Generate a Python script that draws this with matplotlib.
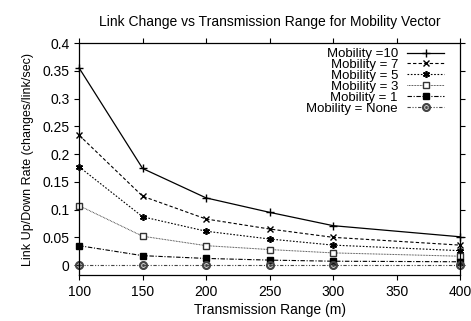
import matplotlib
matplotlib.use("Agg")
import matplotlib.pyplot as plt

plt.rcParams['font.family'] = ['Liberation Sans', 'DejaVu Sans']

ranges = [100, 150, 200, 250, 300, 400]
labels = ["Mobility =10", "Mobility = 7", "Mobility = 5", "Mobility = 3", "Mobility = 1", "Mobility = None"]
mob10 = [0.355, 0.174, 0.121, 0.095, 0.071, 0.051]
mob7 = [0.234, 0.124, 0.083, 0.065, 0.050, 0.036]
mob5 = [0.177, 0.087, 0.061, 0.047, 0.036, 0.026]
mob3 = [0.107, 0.052, 0.035, 0.028, 0.022, 0.016]
mob1 = [0.035, 0.017, 0.012, 0.009, 0.007, 0.006]
mobnone = [0.0, 0.0, 0.0, 0.0, 0.0, 0.0]

series = [mob10, mob7, mob5, mob3, mob1, mobnone]
styles = [
    dict(ls='-', marker='+', ms=5.5, mew=1.0, color='black', lw=0.9),
    dict(ls=(0, (3, 2)), marker='x', ms=4, mew=1.0, color='black', lw=0.8),
    dict(ls=(0, (1.5, 1.5)), marker=(6, 2, 0), ms=5, mew=1.2, color='black', lw=0.8),
    dict(ls=(0, (0.8, 0.8)), marker='s', ms=4.2, mfc='white', mew=1.0, color='#333333', lw=0.7),
    dict(ls=(0, (4, 1.5, 1, 1.5)), marker='s', ms=4.2, color='black', lw=0.8),
    dict(ls=(0, (3, 1.5, 1, 1.5, 1, 1.5)), marker=r'$\odot$', ms=5.5, color='#444444', lw=0.8),
]

fig = plt.figure(figsize=(4.71, 3.21), dpi=100)
ax = fig.add_axes([0.168, 0.143, 0.809, 0.723])

for ys, lab, st in zip(series, labels, styles):
    ax.plot(ranges, ys, label=lab, clip_on=False, **st)

ax.set_xlim(100, 400)
ax.set_ylim(-0.018, 0.4)
ax.set_xticks([100, 150, 200, 250, 300, 350, 400])
ax.set_yticks([0, 0.05, 0.1, 0.15, 0.2, 0.25, 0.3, 0.35, 0.4])
ax.set_yticklabels(["0", "0.05", "0.1", "0.15", "0.2", "0.25", "0.3", "0.35", "0.4"])
ax.tick_params(direction='out', length=3.5, width=0.8, top=True, right=True, labelsize=10, pad=3.5)
for s in ax.spines.values():
    s.set_linewidth(0.9)

ax.set_xlabel("Transmission Range (m)", fontsize=10, labelpad=3)
ax.set_ylabel("Link Up/Down Rate (changes/link/sec)", fontsize=9, labelpad=6)
ax.set_title("Link Change vs Transmission Range for Mobility Vector", fontsize=10, pad=12)

ax.legend(loc='upper right', markerfirst=False, frameon=False, fontsize=9.5,
          handlelength=2.8, labelspacing=-0.1, handletextpad=0.7,
          borderpad=0, borderaxespad=0, bbox_to_anchor=(0.958, 0.979))

fig.savefig("out.png", dpi=100)
